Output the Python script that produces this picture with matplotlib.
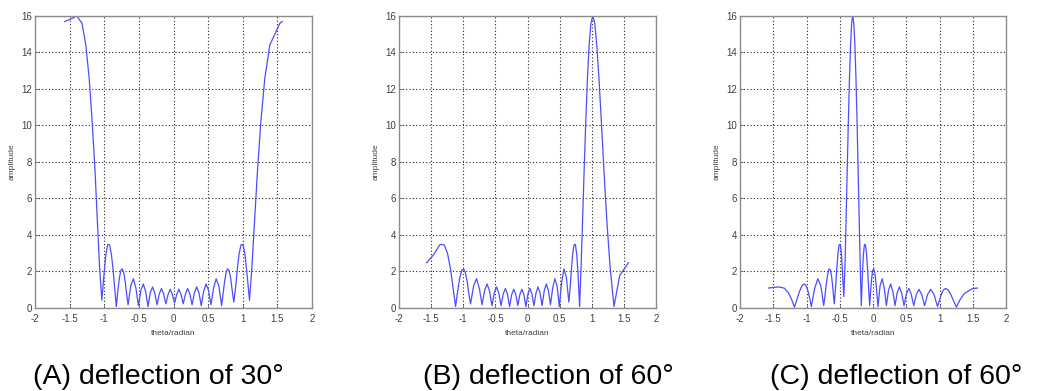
import matplotlib
matplotlib.use("Agg")
import matplotlib.pyplot as plt

plt.rcParams['font.family'] = ['Liberation Sans', 'DejaVu Sans']

# (A) deflection of 30 deg
theta_a = [-1.5708, -1.4708, -1.3973, -1.3212, -1.2655, -1.2170, -1.1745, -1.1336, -1.1002, -1.0675,
           -1.0352, -1.0053, -0.9769, -0.9495, -0.9231, -0.8977, -0.8730, -0.8490, -0.8259, -0.8028,
           -0.7806, -0.7589, -0.7376, -0.7167, -0.6962, -0.6760, -0.6560, -0.6173, -0.5794, -0.5425,
           -0.5064, -0.4710, -0.4362, -0.4020, -0.3683, -0.3350, -0.3021, -0.2695, -0.2372, -0.2052,
           -0.1734, -0.1417, -0.1102, -0.0788, -0.0475, -0.0163, 0.0150, 0.0463, 0.0776, 0.1090,
           0.1405, 0.1721, 0.2039, 0.2359, 0.2682, 0.3008, 0.3336, 0.3669, 0.4007, 0.4349,
           0.4696, 0.5050, 0.5410, 0.5779, 0.6157, 0.6545, 0.6945, 0.7151, 0.7359, 0.7572,
           0.7789, 0.8010, 0.8240, 0.8471, 0.8711, 0.8957, 0.9211, 0.9474, 0.9746, 1.0030,
           1.0328, 1.0642, 1.0974, 1.1328, 1.1713, 1.2136, 1.2614, 1.3176, 1.3903, 1.5354,
           1.5708]
amp_a = [15.7, 15.85, 16.0, 15.6, 14.4, 12.55, 10.2, 7.55, 4.8, 2.2,
         0.4, 1.75, 2.9, 3.46, 3.44, 2.95, 2.1, 1.06, 0.05, 0.95,
         1.65, 2.05, 2.12, 1.88, 1.38, 0.72, 0.15, 1.19, 1.58, 1.05,
         0.1, 0.95, 1.29, 0.88, 0.05, 0.82, 1.13, 0.78, 0.15, 0.75,
         1.045, 0.73, 0.2, 0.71, 1.0, 0.71, 0.25, 0.71, 1.0, 0.72,
         0.2, 0.73, 1.045, 0.75, 0.15, 0.78, 1.13, 0.82, 0.1, 0.88,
         1.29, 0.95, 0.15, 1.05, 1.58, 1.19, 0.1, 0.72, 1.38, 1.88,
         2.12, 2.05, 1.65, 0.95, 0.3, 1.06, 2.1, 2.95, 3.44, 3.46,
         2.9, 1.75, 0.4, 2.24, 4.8, 7.55, 10.2, 12.55, 14.4, 15.6,
         15.7]

# (B) deflection of 60 deg
theta_b = [-1.5708, -1.4589, -1.3612, -1.2961, -1.2434, -1.1978, -1.1571, -1.1198, -1.0851, -1.0527,
           -1.0220, -0.9926, -0.9647, -0.9377, -0.9118, -0.8868, -0.8387, -0.7930, -0.7495, -0.7076,
           -0.6671, -0.6280, -0.5898, -0.5527, -0.5164, -0.4808, -0.4459, -0.4115, -0.3777, -0.3443,
           -0.3112, -0.2786, -0.2462, -0.2141, -0.1823, -0.1506, -0.1190, -0.0876, -0.0563, -0.0250,
           0.0063, 0.0375, 0.0688, 0.1002, 0.1316, 0.1632, 0.1950, 0.2269, 0.2591, 0.2916,
           0.3244, 0.3576, 0.3911, 0.4251, 0.4598, 0.4950, 0.5309, 0.5674, 0.6050, 0.6435,
           0.6632, 0.6832, 0.7035, 0.7244, 0.7453, 0.7667, 0.7885, 0.8110, 0.8340, 0.8575,
           0.8818, 0.9068, 0.9324, 0.9592, 0.9870, 1.0160, 1.0464, 1.0785, 1.1126, 1.1494,
           1.1894, 1.2338, 1.2848, 1.3467, 1.4338, 1.5708]
amp_b = [2.45, 2.91, 3.46, 3.44, 2.95, 2.1, 1.06, 0.05, 0.95, 1.65,
         2.05, 2.12, 1.88, 1.38, 0.72, 0.2, 1.19, 1.58, 1.05, 0.15,
         0.95, 1.29, 0.88, 0.1, 0.82, 1.13, 0.78, 0.1, 0.75, 1.045,
         0.73, 0.05, 0.71, 1.0, 0.71, 0.1, 0.71, 1.0, 0.71, 0.05,
         0.73, 1.045, 0.75, 0.1, 0.78, 1.13, 0.82, 0.1, 0.88, 1.29,
         0.95, 0.15, 1.05, 1.58, 1.19, 0.05, 1.38, 2.12, 1.65, 0.3,
         1.06, 2.1, 2.95, 3.44, 3.46, 2.91, 1.75, 0.05, 2.24, 4.82,
         7.55, 10.2, 12.55, 14.4, 15.6, 16.0, 15.6, 14.4, 12.55, 10.2,
         7.55, 4.82, 2.24, 0.05, 1.75, 2.45]

# (C) deflection of 60 deg (second case)
theta_c = [-1.5708, -1.4125, -1.3331, -1.2739, -1.2245, -1.1810, -1.1418, -1.1056, -1.0719, -1.0402,
           -1.0100, -0.9813, -0.9538, -0.9273, -0.8769, -0.8296, -0.7841, -0.7410, -0.7200, -0.6994,
           -0.6791, -0.6592, -0.6396, -0.6203, -0.6012, -0.5824, -0.5637, -0.5454, -0.5272, -0.5092,
           -0.4914, -0.4738, -0.4563, -0.4390, -0.4217, -0.4047, -0.3878, -0.3709, -0.3542, -0.3376,
           -0.3211, -0.3047, -0.2884, -0.2721, -0.2559, -0.2398, -0.2237, -0.2077, -0.1918, -0.1759,
           -0.1601, -0.1442, -0.1285, -0.1127, -0.0970, -0.0813, -0.0657, -0.0500, -0.0344, -0.0188,
           -0.0031, 0.0125, 0.0281, 0.0438, 0.0594, 0.0751, 0.1065, 0.1379, 0.1696, 0.2014,
           0.2333, 0.2656, 0.2982, 0.3310, 0.3643, 0.3979, 0.4321, 0.4667, 0.5021, 0.5381,
           0.5749, 0.6126, 0.6513, 0.6913, 0.7325, 0.7754, 0.8202, 0.8672, 0.9169, 0.9702,
           0.9984, 1.0280, 1.0589, 1.0919, 1.1270, 1.1649, 1.2065, 1.2532, 1.3078, 1.3768,
           1.4917, 1.5708]
amp_c = [1.07, 1.13, 1.06, 0.82, 0.45, 0.02, 0.47, 0.88, 1.17, 1.29,
         1.22, 0.95, 0.53, 0.05, 1.05, 1.58, 1.19, 0.1, 0.72, 1.38,
         1.88, 2.12, 2.05, 1.65, 0.95, 0.2, 1.06, 2.1, 2.95, 3.44,
         3.46, 2.91, 1.75, 0.6, 2.24, 4.82, 7.55, 10.2, 12.55, 14.4,
         15.6, 16.0, 15.6, 14.4, 12.55, 10.2, 7.55, 4.82, 2.24, 0.1,
         1.75, 2.91, 3.46, 3.44, 2.95, 2.1, 1.06, 0.1, 0.95, 1.65,
         2.05, 2.12, 1.88, 1.38, 0.72, 0.05, 1.19, 1.58, 1.05, 0.1,
         0.95, 1.29, 0.88, 0.1, 0.82, 1.13, 0.78, 0.1, 0.75, 1.045,
         0.73, 0.1, 0.71, 1.0, 0.71, 0.1, 0.71, 1.0, 0.72, 0.05,
         0.39, 0.73, 0.96, 1.045, 0.97, 0.75, 0.41, 0.02, 0.42, 0.78,
         1.03, 1.07]

x_ticks = [-2, -1.5, -1, -0.5, 0, 0.5, 1, 1.5, 2]
x_tick_labels = ['-2', '-1.5', '-1', '-0.5', '0', '0.5', '1', '1.5', '2']
y_ticks = [0, 2, 4, 6, 8, 10, 12, 14, 16]
captions = ['(A) deflection of 30°', '(B) deflection of 60°', '(C) deflection of 60°']

W, H = 1052, 391
fig = plt.figure(figsize=(W / 100, H / 100), dpi=100)

# axes boxes in pixels: left, right, top, bottom
boxes = [(35, 312, 16, 307.5), (399, 656, 16, 307.5), (740, 1006, 16, 307.5)]
caption_x = [33, 423, 770]
series = [(theta_a, amp_a), (theta_b, amp_b), (theta_c, amp_c)]

for (l, r, t, b), (th, amp), cap, cx in zip(boxes, series, captions, caption_x):
    ax = fig.add_axes([l / W, 1 - b / H, (r - l) / W, (b - t) / H])
    ax.plot(th, amp, color=(0.3, 0.3, 1.0), lw=0.9)
    ax.set_xlim(-2, 2)
    ax.set_ylim(0, 16)
    ax.set_xticks(x_ticks)
    ax.set_xticklabels(x_tick_labels)
    ax.set_yticks(y_ticks)
    ax.grid(True, color='0.15', linestyle=(0, (1, 2)), lw=0.8)
    ax.tick_params(direction='in', length=2, width=0.6, labelsize=7, pad=2,
                   colors='0.35', labelcolor='0.25')
    ax.tick_params(axis='x', pad=5)
    for s in ax.spines.values():
        s.set_color('0.55')
        s.set_linewidth(1.0)
    ax.set_xlabel('theta/radian', fontsize=6, color='0.25', labelpad=4)
    ax.set_ylabel('amplitude', fontsize=6, color='0.25', labelpad=4)
    fig.text(cx / W, 1 - 377 / H, cap, fontsize=20.5, ha='left', va='center', color='black')

fig.savefig('out.png', dpi=100)
